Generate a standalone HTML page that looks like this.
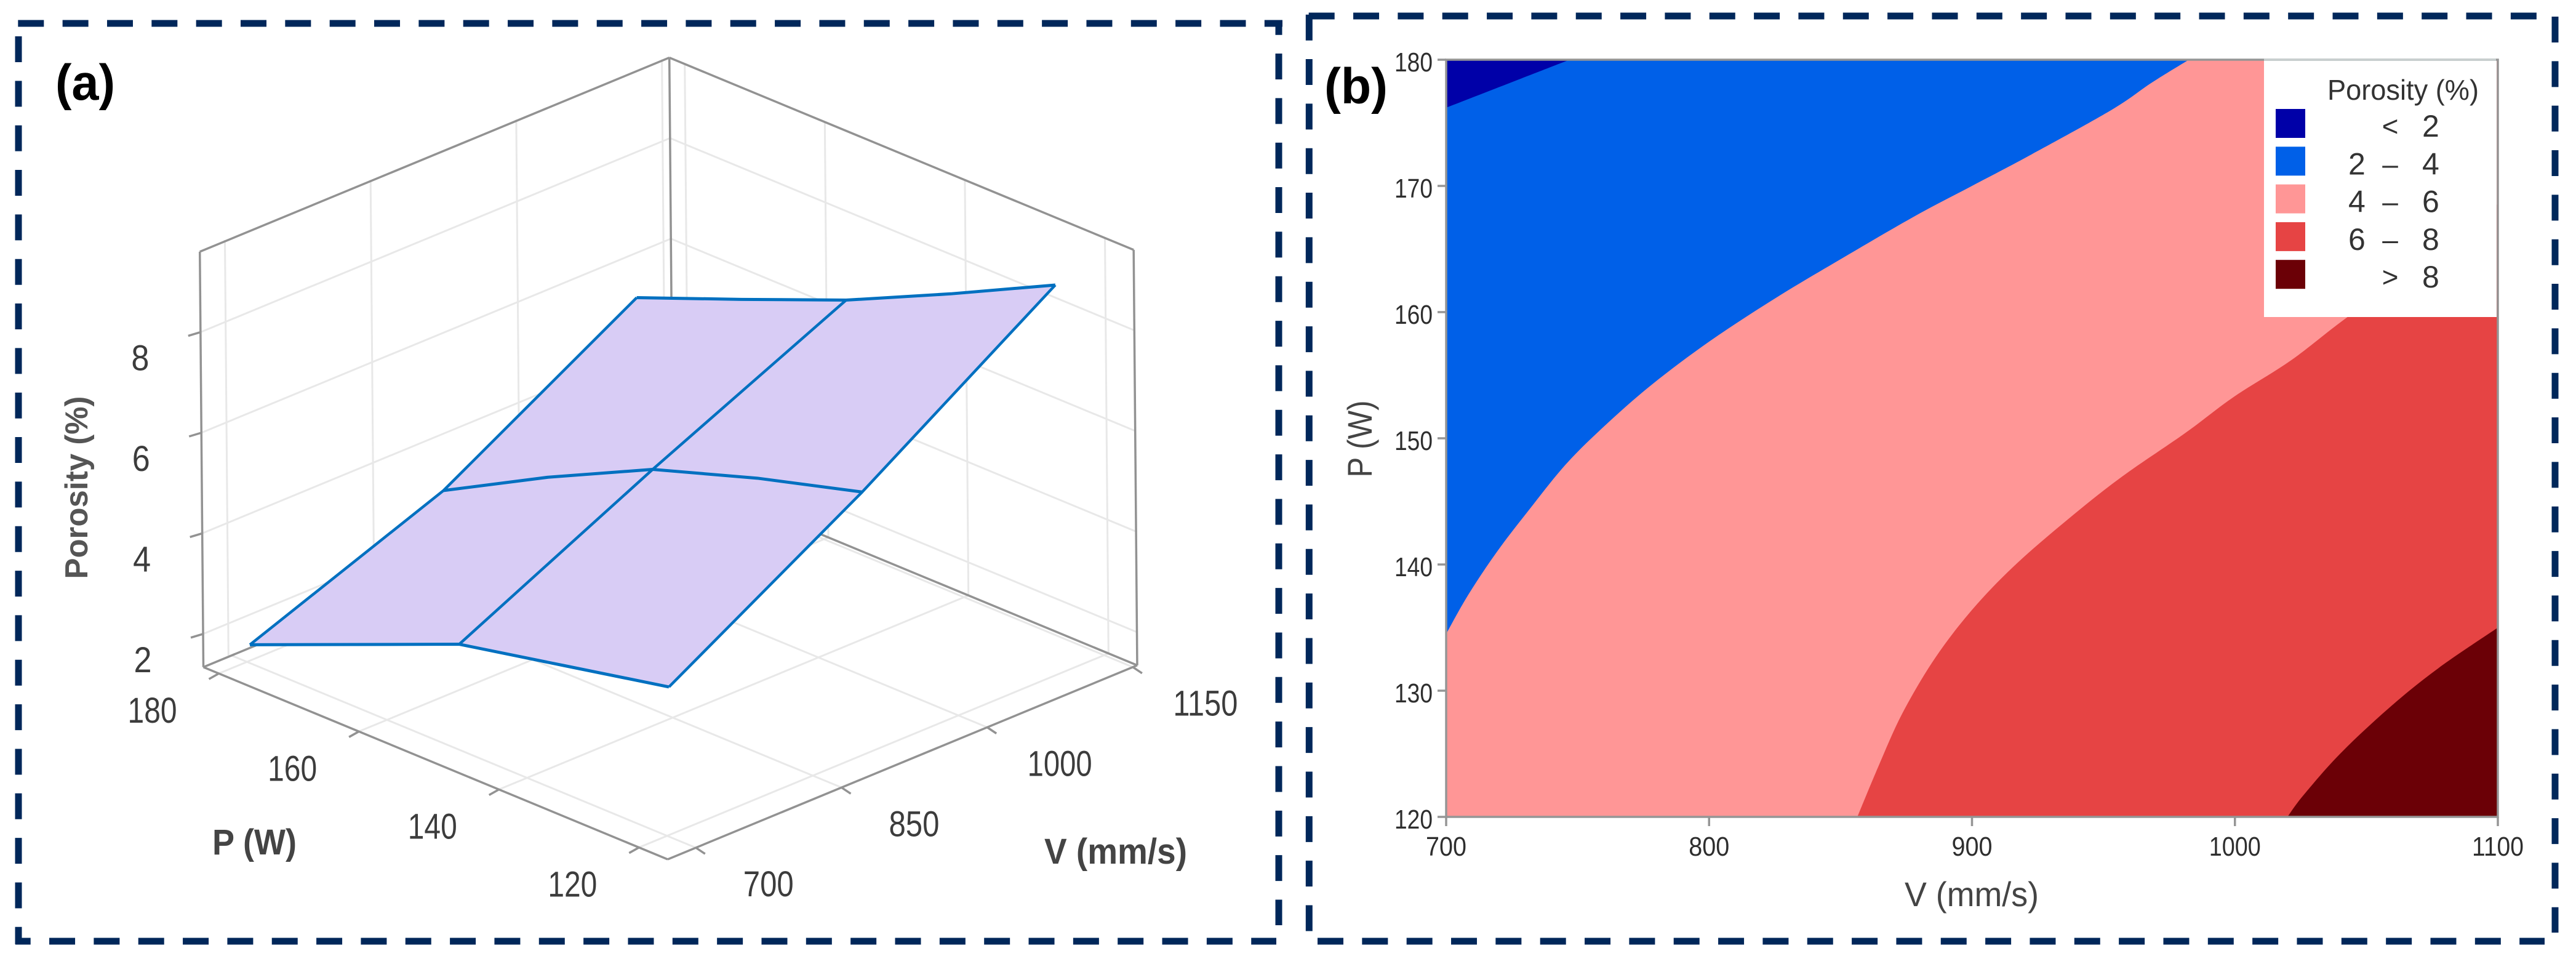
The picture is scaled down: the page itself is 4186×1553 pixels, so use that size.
<!DOCTYPE html>
<html>
<head>
<meta charset="utf-8">
<title>Porosity surface and contour plots</title>
<style>
html,body{margin:0;padding:0;background:#fff;width:4186px;height:1553px;overflow:hidden}
svg{display:block;font-family:"Liberation Sans",sans-serif}
.fr{stroke:#00275a;stroke-width:11;stroke-dasharray:42 30.34;fill:none}
</style>
</head>
<body>
<svg id="fig" xmlns="http://www.w3.org/2000/svg" width="4186" height="1553" viewBox="0 0 4186 1553">
  <rect x="0" y="0" width="4186" height="1553" fill="#fff"/>
  <g>
    <line class="fr" x1="29.3" y1="38" x2="2084" y2="38"/>
    <line class="fr" x1="2078" y1="32.5" x2="2078" y2="1503" stroke-dashoffset="17.8"/>
    <line class="fr" x1="25" y1="1529" x2="2074" y2="1529" stroke-dashoffset="17.3"/>
    <line class="fr" x1="30" y1="59" x2="30" y2="1534"/>
  </g>
  <g>
    <line class="fr" x1="2126.7" y1="26" x2="4122" y2="26"/>
    <line class="fr" x1="4152" y1="27" x2="4152" y2="1515"/>
    <line class="fr" x1="2141" y1="1529" x2="4135" y2="1529"/>
    <line class="fr" x1="2127.3" y1="23.7" x2="2127.3" y2="1513"/>
  </g>
  <g id="surface3d"></g>
  <g id="contour"></g>
  <text x="90" y="162" font-size="82" font-weight="bold" fill="#000" textLength="97" lengthAdjust="spacingAndGlyphs">(a)</text>
  <text x="2152" y="168" font-size="82" font-weight="bold" fill="#000" textLength="103" lengthAdjust="spacingAndGlyphs">(b)</text>
  <text transform="translate(142,792) rotate(-90)" text-anchor="middle" font-size="52" font-weight="bold" fill="#555" textLength="297" lengthAdjust="spacingAndGlyphs">Porosity (%)</text>
  <text x="345" y="1388" font-size="58" font-weight="bold" fill="#444" textLength="137" lengthAdjust="spacingAndGlyphs">P (W)</text>
  <text x="1697" y="1403" font-size="58" font-weight="bold" fill="#444" textLength="232" lengthAdjust="spacingAndGlyphs">V (mm/s)</text>
  <text x="3204" y="1472" text-anchor="middle" font-size="56" fill="#444" textLength="218" lengthAdjust="spacingAndGlyphs">V (mm/s)</text>
  <text transform="translate(2229,713) rotate(-90)" text-anchor="middle" font-size="56" fill="#444" textLength="125" lengthAdjust="spacingAndGlyphs">P (W)</text>
</svg>
<script>
/* ---------- 3D surface data (panel a) ---------- */
const surfaceV = [700, 900, 1100];
const surfaceP = [180, 165, 150, 135, 120];
const surfaceZ700 = [1.68, 2.55, 3.42, 3.86, 4.30];
const surfaceZ900 = [3.15, 4.28, 5.30, 5.99, 6.58];
const surfaceZ1100 = [5.39, 6.22, 7.07, 8.06, 9.10];
const zTicks = [2, 4, 6, 8];
const pTicks = [180, 160, 140, 120];
const vTicks = [700, 850, 1000, 1150];

/* ---------- contour data (panel b) ---------- */
const xTicks = [700, 800, 900, 1000, 1100];
const yTicks = [120, 130, 140, 150, 160, 170, 180];
const below2V = [700, 747];
const below2P = [176.2, 180];
const level4V = [700, 708.4, 719.3, 731.8, 745.8, 761.4, 778.5, 800.3, 825.2, 850.1, 878.2, 900, 921.8, 952.9, 968.5, 982.5];
const level4P = [134.5, 137.6, 141.0, 144.4, 148.0, 151.2, 154.3, 157.7, 161.1, 164.2, 167.6, 170, 172.4, 176, 178.2, 180];
const level6V = [856.4, 864.2, 873.5, 886, 900, 915.6, 934.3, 956, 981, 999.7, 1021.5, 1044.8, 1077.5, 1100];
const level6P = [120, 123.9, 128.2, 132.6, 136.4, 139.8, 143.2, 146.8, 150.4, 153.3, 156.2, 159.9, 164.4, 168.6];
const level8V = [1020, 1026, 1040, 1059, 1077.5, 1100];
const level8P = [120, 121.7, 125, 128.7, 131.8, 135];
const legendLow = ["", "2", "4", "6", ""];
const legendOp = ["<", "\u2013", "\u2013", "\u2013", ">"];
const legendHigh = ["2", "4", "6", "8", "8"];
const legendColors = ["#0000a8", "#0060e8", "#ff9696", "#e64444", "#6b0006"];

const NS = "http://www.w3.org/2000/svg";
function mk(parent, tag, attrs, txt) {
  const e = document.createElementNS(NS, tag);
  for (const k in attrs) e.setAttribute(k, attrs[k]);
  if (txt !== undefined) e.textContent = txt;
  parent.appendChild(e);
  return e;
}
function tag(e, name) {
  
  
  return e;
}

/* ---------- 3D axis functions ---------- */
const s3 = document.getElementById('surface3d');
const Vmin = 671, Vmax = 1154.5, Pmin = 115.9, Pmax = 182.2, Zmin = 1.34, Zmax = 9.6;
function px3(v, p, z) { return 1085 + (v - Vmin) * 1.578 - (p - Pmin) * 11.38 - (z - Zmin) * 0.7; }
function py3(v, p, z) { return 1396 - (v - Vmin) * 0.652 - (p - Pmin) * 4.71 - (z - Zmin) * 81.7; }
function seg3(a, b, stroke, w, name, dx) {
  const o = dx || 0;
  const e = mk(s3, 'line', {x1: px3(a[0], a[1], a[2]) + o, y1: py3(a[0], a[1], a[2]), x2: px3(b[0], b[1], b[2]) + o, y2: py3(b[0], b[1], b[2]), stroke: stroke, 'stroke-width': w});
  return tag(e, name);
}
const GRID = "#e8e8e8", AX = "#929292";

/* gridlines */
vTicks.forEach(v => {
  seg3([v, Pmax, Zmin], [v, Pmax, Zmax], GRID, 3, 'wall-grid-v', -5);
  seg3([v, Pmin, Zmin], [v, Pmax, Zmin], GRID, 3, 'floor-grid-v');
});
pTicks.forEach(p => {
  seg3([Vmax, p, Zmin], [Vmax, p, Zmax], GRID, 3, 'wall-grid-p');
  seg3([Vmin, p, Zmin], [Vmax, p, Zmin], GRID, 3, 'floor-grid-p');
});
zTicks.forEach(z => {
  seg3([Vmin, Pmax, z], [Vmax, Pmax, z], GRID, 3, 'wall-grid-z');
  seg3([Vmax, Pmax, z], [Vmax, Pmin, z], GRID, 3, 'wall-grid-z');
});

/* box edges */
seg3([Vmin, Pmax, Zmax], [Vmax, Pmax, Zmax], AX, 3.5, 'box-edge-top-left');
seg3([Vmax, Pmax, Zmax], [Vmax, Pmin, Zmax], AX, 3.5, 'box-edge-top-right');
seg3([Vmin, Pmax, Zmin], [Vmin, Pmax, Zmax], AX, 3.5, 'z-axis-line');
seg3([Vmax, Pmin, Zmin], [Vmax, Pmin, Zmax], AX, 3.5, 'box-edge-right');
seg3([Vmax, Pmax, Zmin], [Vmax, Pmax, Zmax], AX, 3.5, 'box-edge-back');
seg3([Vmin, Pmax, Zmin], [Vmax, Pmax, Zmin], AX, 3.5, 'floor-edge-back-left');
seg3([Vmax, Pmax, Zmin], [Vmax, Pmin, Zmin], AX, 3.5, 'floor-edge-back-right');
seg3([Vmin, Pmax, Zmin], [Vmin, Pmin, Zmin], AX, 3.5, 'p-axis-line');
seg3([Vmin, Pmin, Zmin], [Vmax, Pmin, Zmin], AX, 3.5, 'v-axis-line');

/* ticks */
zTicks.forEach(z => {
  const x = px3(Vmin, Pmax, z), y = py3(Vmin, Pmax, z);
  const t = mk(s3, 'line', {x1: x, y1: y, x2: x - 20, y2: y + 6, stroke: AX, 'stroke-width': 3.5});
  tag(t, 'z-tick');
});
pTicks.forEach(p => {
  const x = px3(Vmin, p, Zmin), y = py3(Vmin, p, Zmin);
  const t = mk(s3, 'line', {x1: x, y1: y, x2: x - 16, y2: y + 9, stroke: AX, 'stroke-width': 3.5});
  tag(t, 'p-tick');
});
vTicks.forEach(v => {
  const x = px3(v, Pmin, Zmin), y = py3(v, Pmin, Zmin);
  const t = mk(s3, 'line', {x1: x, y1: y, x2: x + 15, y2: y + 10, stroke: AX, 'stroke-width': 3.5});
  tag(t, 'v-tick');
});

/* surface */
const surfDx = 5;
function zAt(iV, iP) { return [surfaceZ700, surfaceZ900, surfaceZ1100][iV][iP]; }
function ptStr(iV, iP) {
  const v = surfaceV[iV], p = surfaceP[iP], z = zAt(iV, iP);
  return (px3(v, p, z) + surfDx) + ',' + py3(v, p, z);
}
const outline = [];
surfaceP.forEach((p, i) => outline.push(ptStr(0, i)));
surfaceV.forEach((v, i) => outline.push(ptStr(i, surfaceP.length - 1)));
surfaceP.slice().reverse().forEach((p, i) => outline.push(ptStr(surfaceV.length - 1, surfaceP.length - 1 - i)));
surfaceV.slice().reverse().forEach((v, i) => outline.push(ptStr(surfaceV.length - 1 - i, 0)));
const fillPoly = mk(s3, 'polygon', {points: outline.join(' '), fill: '#d8ccf5', stroke: 'none'});
tag(fillPoly, 'response-surface');
surfaceV.forEach((v, iV) => {
  const pts = surfaceP.map((p, iP) => ptStr(iV, iP)).join(' ');
  const l = mk(s3, 'polyline', {points: pts, fill: 'none', stroke: '#0070c0', 'stroke-width': 5, 'stroke-linejoin': 'round'});
  tag(l, 'surface-mesh-line-v');
});
[0, 2, 4].forEach(iP => {
  const pts = surfaceV.map((v, iV) => ptStr(iV, iP)).join(' ');
  const l = mk(s3, 'polyline', {points: pts, fill: 'none', stroke: '#0070c0', 'stroke-width': 4.5, 'stroke-linejoin': 'round'});
  tag(l, 'surface-mesh-line-p');
});

/* 3D tick labels */
const labelColor = "#3c3c3c";
zTicks.forEach(z => {
  const t = mk(s3, 'text', {x: px3(Vmin, Pmax, z) - 98, y: py3(Vmin, Pmax, z) + 62, 'font-size': 58, 'text-anchor': 'middle', fill: labelColor, textLength: 29, lengthAdjust: 'spacingAndGlyphs'}, String(z));
  tag(t, 'z-tick-label');
});
pTicks.forEach(p => {
  const t = mk(s3, 'text', {x: px3(Vmin, p, Zmin) - 108, y: py3(Vmin, p, Zmin) + 80, 'font-size': 58, 'text-anchor': 'middle', fill: labelColor, textLength: 80, lengthAdjust: 'spacingAndGlyphs'}, String(p));
  tag(t, 'p-tick-label');
});
vTicks.forEach(v => {
  const s = String(v);
  const t = mk(s3, 'text', {x: px3(v, Pmin, Zmin) + 118, y: py3(v, Pmin, Zmin) + 79, 'font-size': 58, 'text-anchor': 'middle', fill: labelColor, textLength: s.length === 4 ? 105 : 82, lengthAdjust: 'spacingAndGlyphs'}, s);
  tag(t, 'v-tick-label');
});

/* ---------- contour axis functions ---------- */
const c2 = document.getElementById('contour');
function xS(v) { return 2350 + (v - 700) / 400 * 1709; }
function yS(p) { return 1327 - (p - 120) / 60 * 1230; }
function smoothPath(vs, ps) {
  const P = vs.map((v, i) => [xS(v), yS(ps[i])]);
  let d = 'M' + P[0][0] + ' ' + P[0][1];
  for (let i = 0; i < P.length - 1; i++) {
    const p0 = P[Math.max(i - 1, 0)], p1 = P[i], p2 = P[i + 1], p3 = P[Math.min(i + 2, P.length - 1)];
    d += ' C' + (p1[0] + (p2[0] - p0[0]) / 6) + ' ' + (p1[1] + (p2[1] - p0[1]) / 6) + ' ' +
         (p2[0] - (p3[0] - p1[0]) / 6) + ' ' + (p2[1] - (p3[1] - p1[1]) / 6) + ' ' + p2[0] + ' ' + p2[1];
  }
  return d;
}
function region(vs, ps, cornerV, cornerP, color, name) {
  const d = smoothPath(vs, ps) + ' L' + xS(cornerV) + ' ' + yS(cornerP) + ' Z';
  const e = mk(c2, 'path', {d: d, fill: color});
  return tag(e, name);
}
const bg = mk(c2, 'rect', {x: xS(700), y: yS(180), width: xS(1100) - xS(700), height: yS(120) - yS(180), fill: legendColors[2]});
tag(bg, 'contour-band-4-6');
region(level4V, level4P, 700, 180, legendColors[1], 'contour-band-2-4');
region(below2V, below2P, 700, 180, legendColors[0], 'contour-band-below-2');
region(level6V, level6P, 1100, 120, legendColors[3], 'contour-band-6-8');
region(level8V, level8P, 1100, 120, legendColors[4], 'contour-band-above-8');

/* legend box sits under the axes frame */
const lg = mk(c2, 'rect', {x: 3679, y: 97, width: 378, height: 418, fill: '#fff'});
tag(lg, 'legend-box');

/* axes frame */
const frame = mk(c2, 'rect', {x: xS(700), y: yS(180), width: xS(1100) - xS(700), height: yS(120) - yS(180), fill: 'none', stroke: '#959595', 'stroke-width': 3.5});
tag(frame, 'contour-axes-frame');
const lgTop = mk(c2, 'line', {x1: 3679, x2: 4056, y1: 97, y2: 97, stroke: '#c8cfcf', 'stroke-width': 3.5});
tag(lgTop, 'legend-top-edge');

xTicks.forEach(v => {
  const l = mk(c2, 'line', {x1: xS(v), x2: xS(v), y1: yS(120), y2: yS(120) + 15, stroke: '#959595', 'stroke-width': 3.5});
  tag(l, 'contour-x-tick');
  const s = String(v);
  const t = mk(c2, 'text', {x: xS(v), y: yS(120) + 63, 'text-anchor': 'middle', 'font-size': 44, fill: '#2e2e2e', textLength: s.length === 4 ? 84 : 66, lengthAdjust: 'spacingAndGlyphs'}, s);
  tag(t, 'contour-x-tick-label');
});
yTicks.forEach(p => {
  const l = mk(c2, 'line', {x1: xS(700) - 14, x2: xS(700), y1: yS(p), y2: yS(p), stroke: '#959595', 'stroke-width': 3.5});
  tag(l, 'contour-y-tick');
  const t = mk(c2, 'text', {x: xS(700) - 22, y: yS(p) + 19, 'text-anchor': 'end', 'font-size': 44, fill: '#2e2e2e', textLength: 62, lengthAdjust: 'spacingAndGlyphs'}, String(p));
  tag(t, 'contour-y-tick-label');
});

/* legend contents */
const lgT = mk(c2, 'text', {x: 3782, y: 162, 'font-size': 46, fill: '#333', textLength: 246, lengthAdjust: 'spacingAndGlyphs'}, 'Porosity (%)');
tag(lgT, 'legend-title');
legendColors.forEach((col, i) => {
  const top = 177 + i * 61.3;
  const sw = mk(c2, 'rect', {x: 3698, y: top, width: 48, height: 47, fill: col});
  tag(sw, 'legend-swatch');
  const base = top + 45;
  if (legendLow[i]) {
    const a = mk(c2, 'text', {x: 3816, y: base, 'font-size': 50, fill: '#333'}, legendLow[i]);
    tag(a, 'legend-low-value');
  }
  const b = mk(c2, 'text', {x: 3884, y: base - 1, 'text-anchor': 'middle', 'font-size': 46, fill: '#333'}, legendOp[i]);
  tag(b, 'legend-operator');
  const d = mk(c2, 'text', {x: 3936, y: base, 'font-size': 50, fill: '#333'}, legendHigh[i]);
  tag(d, 'legend-high-value');
});
</script>
</body>
</html>
